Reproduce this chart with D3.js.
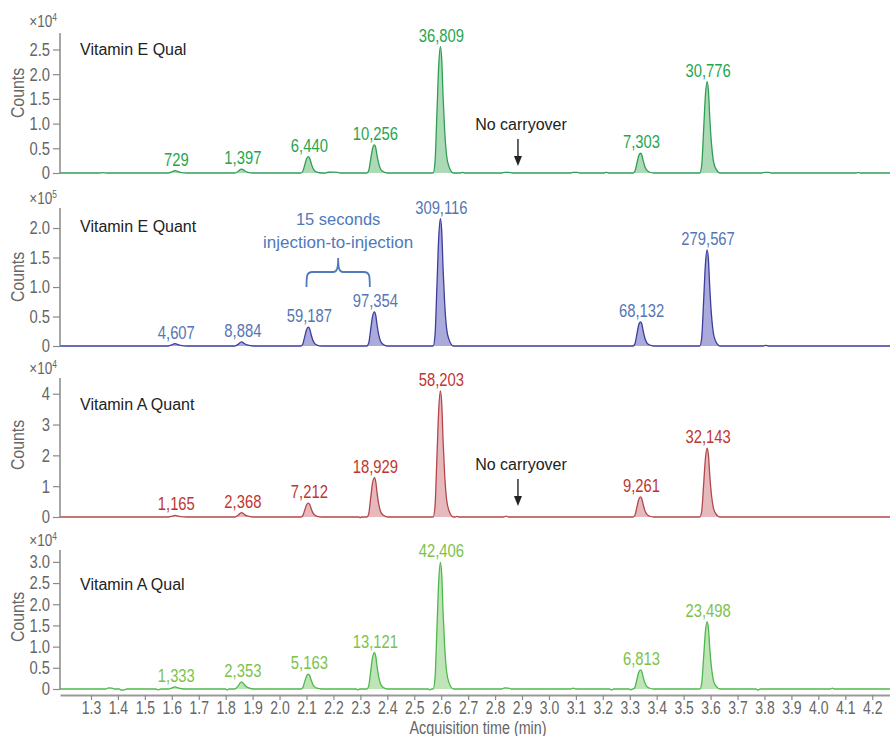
<!DOCTYPE html>
<meta charset="utf-8">
<style>
  body { margin: 0; background: #fff; }
  text { font-family: "Liberation Sans", Arial, sans-serif; }
</style>
<script src="https://d3js.org/d3.v7.min.js"></script>
<div id="chart"></div>
<script>

// ---- data ----
var panelNames = ["Vitamin E Qual", "Vitamin E Quant", "Vitamin A Quant", "Vitamin A Qual"];
var exponents = ["4", "5", "4", "4"];

var yTickValues = [
  [0, 0.5, 1, 1.5, 2, 2.5],
  [0, 0.5, 1, 1.5, 2],
  [0, 1, 2, 3, 4],
  [0, 0.5, 1, 1.5, 2, 2.5, 3]
];
var yTickLabels = [
  ["0", "0.5", "1.0", "1.5", "2.0", "2.5"],
  ["0", "0.5", "1.0", "1.5", "2.0"],
  ["0", "1", "2", "3", "4"],
  ["0", "0.5", "1.0", "1.5", "2.0", "2.5", "3.0"]
];
var yMax = [2.834, 2.34, 4.51, 3.28];

var xTickValues = [1.3, 1.4, 1.5, 1.6, 1.7, 1.8, 1.9, 2.0, 2.1, 2.2, 2.3, 2.4, 2.5, 2.6, 2.7,
                   2.8, 2.9, 3.0, 3.1, 3.2, 3.3, 3.4, 3.5, 3.6, 3.7, 3.8, 3.9, 4.0, 4.1, 4.2];

// retention time of each labelled peak (min)
var peakTimes = [1.613, 1.860, 2.107, 2.352, 2.597, 3.340, 3.587];

// peak apex heights, in axis units (x10^n)
var peakHeights = [
  [0.05, 0.08, 0.33, 0.57, 2.56, 0.40, 1.85],
  [0.04, 0.07, 0.32, 0.58, 2.16, 0.41, 1.63],
  [0.05, 0.14, 0.45, 1.28, 4.09, 0.65, 2.23],
  [0.05, 0.17, 0.35, 0.86, 2.99, 0.45, 1.59]
];

// peak area labels
var peakLabels = [
  ["729", "1,397", "6,440", "10,256", "36,809", "7,303", "30,776"],
  ["4,607", "8,884", "59,187", "97,354", "309,116", "68,132", "279,567"],
  ["1,165", "2,368", "7,212", "18,929", "58,203", "9,261", "32,143"],
  ["1,333", "2,353", "5,163", "13,121", "42,406", "6,813", "23,498"]
];

// chromatogram traces [time, counts in axis units]
var traceEQual = [
  [1.185, 0], [1.33, 0], [1.345, 0.006], [1.36, 0],
  [1.587, 0], [1.599, 0.02], [1.608, 0.045], [1.613, 0.05], [1.621, 0.033], [1.632, 0.012], [1.656, 0],
  [1.834, 0], [1.846, 0.032], [1.855, 0.072], [1.860, 0.08], [1.868, 0.052], [1.879, 0.02], [1.903, 0],
  [2.079, 0], [2.086, 0.03], [2.093, 0.155], [2.100, 0.285], [2.107, 0.33], [2.112, 0.297], [2.117, 0.205],
  [2.123, 0.11], [2.130, 0.046], [2.139, 0.017], [2.156, 0],
  [2.17, 0], [2.18, 0.015], [2.20, 0.018], [2.215, 0.012], [2.225, 0],
  [2.324, 0], [2.331, 0.05], [2.338, 0.265], [2.345, 0.49], [2.352, 0.57], [2.357, 0.513], [2.362, 0.35],
  [2.368, 0.19], [2.375, 0.08], [2.384, 0.029], [2.401, 0],
  [2.570, 0], [2.577, 0.215], [2.584, 1.18], [2.591, 2.2], [2.597, 2.56], [2.602, 2.304], [2.607, 1.55],
  [2.613, 0.85], [2.620, 0.36], [2.629, 0.128], [2.646, 0],
  [2.672, 0], [2.679, 0.012], [2.686, 0],
  [2.825, 0], [2.835, 0.012], [2.85, 0.014], [2.865, 0],
  [3.08, 0], [3.09, 0.012], [3.105, 0.012], [3.115, 0],
  [3.205, 0], [3.213, 0.014], [3.222, 0],
  [3.312, 0], [3.319, 0.035], [3.326, 0.185], [3.333, 0.345], [3.340, 0.40], [3.345, 0.36], [3.350, 0.245],
  [3.356, 0.132], [3.363, 0.056], [3.372, 0.02], [3.389, 0],
  [3.560, 0], [3.567, 0.155], [3.574, 0.85], [3.581, 1.59], [3.587, 1.85], [3.592, 1.665], [3.597, 1.12],
  [3.603, 0.615], [3.610, 0.26], [3.619, 0.093], [3.636, 0],
  [3.79, 0], [3.80, 0.012], [3.815, 0.012], [3.825, 0],
  [4.14, 0], [4.148, 0.01], [4.156, 0],
  [4.266, 0]
];

var traceEQuant = [
  [1.185, 0],
  [1.587, 0], [1.599, 0.016], [1.608, 0.036], [1.613, 0.04], [1.621, 0.026], [1.632, 0.01], [1.656, 0],
  [1.834, 0], [1.846, 0.028], [1.855, 0.063], [1.860, 0.07], [1.868, 0.046], [1.879, 0.018], [1.903, 0],
  [2.079, 0], [2.086, 0.029], [2.093, 0.15], [2.100, 0.276], [2.107, 0.32], [2.112, 0.288], [2.117, 0.198],
  [2.123, 0.106], [2.130, 0.045], [2.139, 0.016], [2.156, 0],
  [2.324, 0], [2.331, 0.05], [2.338, 0.27], [2.345, 0.5], [2.352, 0.58], [2.357, 0.522], [2.362, 0.356],
  [2.368, 0.193], [2.375, 0.081], [2.384, 0.029], [2.401, 0],
  [2.570, 0], [2.577, 0.182], [2.584, 0.996], [2.591, 1.856], [2.597, 2.16], [2.602, 1.944], [2.607, 1.31],
  [2.613, 0.717], [2.620, 0.304], [2.629, 0.108], [2.646, 0],
  [3.312, 0], [3.319, 0.036], [3.326, 0.19], [3.333, 0.354], [3.340, 0.41], [3.345, 0.369], [3.350, 0.251],
  [3.356, 0.135], [3.363, 0.057], [3.372, 0.021], [3.389, 0],
  [3.560, 0], [3.567, 0.137], [3.574, 0.748], [3.581, 1.4], [3.587, 1.63], [3.592, 1.467], [3.597, 0.988],
  [3.603, 0.54], [3.610, 0.229], [3.619, 0.082], [3.636, 0],
  [3.795, 0], [3.805, 0.01], [3.815, 0],
  [4.266, 0]
];

var traceAQuant = [
  [1.185, 0],
  [1.587, 0], [1.599, 0.02], [1.608, 0.045], [1.613, 0.05], [1.621, 0.033], [1.632, 0.012], [1.656, 0],
  [1.834, 0], [1.846, 0.056], [1.855, 0.126], [1.860, 0.14], [1.868, 0.091], [1.879, 0.035], [1.903, 0],
  [2.079, 0], [2.086, 0.04], [2.093, 0.21], [2.100, 0.39], [2.107, 0.45], [2.112, 0.405], [2.117, 0.28],
  [2.123, 0.15], [2.130, 0.063], [2.139, 0.023], [2.156, 0],
  [2.295, 0], [2.299, -0.03], [2.303, 0],
  [2.324, 0], [2.331, 0.11], [2.338, 0.595], [2.345, 1.1], [2.352, 1.28], [2.357, 1.152], [2.362, 0.785],
  [2.368, 0.425], [2.375, 0.18], [2.384, 0.064], [2.401, 0],
  [2.570, 0], [2.577, 0.344], [2.584, 1.886], [2.591, 3.515], [2.597, 4.09], [2.602, 3.681], [2.607, 2.48],
  [2.613, 1.36], [2.620, 0.575], [2.629, 0.205], [2.646, 0],
  [2.652, 0], [2.658, 0.02], [2.665, 0],
  [2.832, 0], [2.841, 0.03], [2.85, 0],
  [3.312, 0], [3.319, 0.056], [3.326, 0.3], [3.333, 0.56], [3.340, 0.65], [3.345, 0.585], [3.350, 0.398],
  [3.356, 0.216], [3.363, 0.091], [3.372, 0.033], [3.389, 0],
  [3.560, 0], [3.567, 0.188], [3.574, 1.028], [3.581, 1.916], [3.587, 2.23], [3.592, 2.007], [3.597, 1.352],
  [3.603, 0.74], [3.610, 0.313], [3.619, 0.112], [3.636, 0],
  [4.266, 0]
];

var traceAQual = [
  [1.185, 0], [1.355, 0], [1.365, 0.025], [1.378, 0.02], [1.388, 0],
  [1.405, 0], [1.412, -0.025], [1.425, -0.02], [1.432, 0],
  [1.54, 0], [1.55, -0.02], [1.56, 0],
  [1.587, 0], [1.599, 0.02], [1.608, 0.045], [1.613, 0.05], [1.621, 0.033], [1.632, 0.012], [1.656, 0],
  [1.80, 0], [1.806, -0.02], [1.812, 0],
  [1.834, 0], [1.846, 0.068], [1.855, 0.153], [1.860, 0.17], [1.868, 0.111], [1.879, 0.043], [1.903, 0],
  [2.079, 0], [2.086, 0.031], [2.093, 0.164], [2.100, 0.302], [2.107, 0.35], [2.112, 0.315], [2.117, 0.217],
  [2.123, 0.117], [2.130, 0.049], [2.139, 0.018], [2.156, 0],
  [2.285, 0], [2.29, -0.02], [2.298, 0],
  [2.324, 0], [2.331, 0.074], [2.338, 0.4], [2.345, 0.74], [2.352, 0.86], [2.357, 0.774], [2.362, 0.527],
  [2.368, 0.286], [2.375, 0.12], [2.384, 0.043], [2.401, 0],
  [2.553, 0], [2.558, -0.02], [2.564, 0],
  [2.570, 0], [2.577, 0.251], [2.584, 1.38], [2.591, 2.57], [2.597, 2.99], [2.602, 2.691], [2.607, 1.81],
  [2.613, 0.99], [2.620, 0.42], [2.629, 0.15], [2.646, 0],
  [2.825, 0], [2.835, 0.025], [2.85, 0.022], [2.86, 0],
  [3.08, 0], [3.09, 0.02], [3.10, 0],
  [3.225, 0], [3.233, -0.025], [3.24, 0],
  [3.298, 0], [3.304, -0.02], [3.309, 0],
  [3.312, 0], [3.319, 0.039], [3.326, 0.21], [3.333, 0.39], [3.340, 0.45], [3.345, 0.405], [3.350, 0.276],
  [3.356, 0.15], [3.363, 0.063], [3.372, 0.023], [3.389, 0],
  [3.560, 0], [3.567, 0.134], [3.574, 0.73], [3.581, 1.366], [3.587, 1.59], [3.592, 1.431], [3.597, 0.964],
  [3.603, 0.527], [3.610, 0.224], [3.619, 0.08], [3.636, 0],
  [3.768, 0], [3.776, -0.03], [3.784, 0],
  [4.045, 0], [4.052, 0.02], [4.06, 0],
  [4.266, 0]
];

var traces = [traceEQual, traceEQuant, traceAQuant, traceAQual];

// ---- layout / style ----
var W = 890, H = 736;
var axisTop = [33, 208, 378, 550];
var axisZero = [173, 346, 517, 689];
var labelY = [55, 232, 410, 590];
var countsY = [93, 277, 445, 617];
var textColor = ["#1fa64f", "#5675b6", "#c0362f", "#7cc24a"];
var lineColor = ["#2f9e55", "#3d3d9c", "#b3474c", "#4db84b"];
var fillColor = ["#acdab6", "#aaaadc", "#e6b9bd", "#bfe4b8"];
var squeeze = 0.8;   // condensed look for numbers

// squeeze a text horizontally around its anchor point
function condense(sel) {
  sel.each(function() {
    var t = d3.select(this);
    var x0 = +t.attr("x") || 0, y0 = +t.attr("y") || 0;
    t.attr("x", 0).attr("y", 0)
      .attr("transform", "translate(" + x0 + "," + y0 + ") scale(" + squeeze + ",1)");
  });
}

var svg = d3.select("#chart").append("svg")
    .attr("width", W)
    .attr("height", H);

var x = d3.scaleLinear().domain([1.185, 4.266]).range([60, 890]);

panelNames.forEach(function(name, i) {
  var y = d3.scaleLinear().domain([0, yMax[i]]).range([axisZero[i], axisTop[i]]);
  var g = svg.append("g");

  // trace fill + line
  var area = d3.area()
    .x(function(d) { return x(d[0]); })
    .y0(y(0))
    .y1(function(d) { return y(d[1]); })
    .curve(d3.curveMonotoneX);
  var line = d3.line()
    .x(function(d) { return x(d[0]); })
    .y(function(d) { return y(d[1]); })
    .curve(d3.curveMonotoneX);

  g.append("path")
    .datum(traces[i])
    .attr("d", area)
    .attr("fill", fillColor[i]);
  g.append("path")
    .datum(traces[i])
    .attr("d", line)
    .attr("fill", "none")
    .attr("stroke", lineColor[i])
    .attr("stroke-width", 1.3);

  // y axis
  var yAxis = g.append("g")
    .attr("transform", "translate(60,0)")
    .call(d3.axisLeft(y)
      .tickValues(yTickValues[i])
      .tickFormat(function(d, k) { return yTickLabels[i][k]; })
      .tickSize(7)
      .tickSizeOuter(0)
      .tickPadding(3));
  yAxis.select(".domain")
    .attr("d", "M0," + axisTop[i] + "V" + axisZero[i])
    .attr("stroke", "#8a8a8a").attr("stroke-width", 1.5);
  yAxis.selectAll(".tick line").attr("stroke", "#8a8a8a").attr("stroke-width", 1.2);
  yAxis.selectAll(".tick text")
    .attr("fill", "#666")
    .style("font-family", "'Liberation Sans', Arial, sans-serif")
    .style("font-size", "18.5px")
    .call(condense);

  // multiplier
  var mult = g.append("text")
    .attr("x", 57)
    .attr("y", axisTop[i] - 4 - (i === 0 ? 2 : 0))
    .attr("text-anchor", "end")
    .attr("fill", "#666")
    .style("font-size", "17px");
  mult.append("tspan").text("\u00d710");
  mult.append("tspan").attr("dy", -6).style("font-size", "10.5px").text(exponents[i]);
  mult.call(condense);

  // Counts
  g.append("text")
    .attr("transform", "translate(24," + countsY[i] + ") rotate(-90) scale(0.88,1)")
    .attr("text-anchor", "middle")
    .attr("fill", "#666")
    .style("font-size", "18px")
    .text("Counts");

  // panel name
  g.append("text")
    .attr("x", 80)
    .attr("y", labelY[i])
    .attr("fill", "#222")
    .style("font-size", "16px")
    .text(name);

  // peak labels
  g.selectAll(".plab")
    .data(peakTimes)
    .enter().append("text")
    .attr("x", function(t) { return x(t) + 1; })
    .attr("y", function(t, k) { return y(peakHeights[i][k]) - 5; })
    .attr("text-anchor", "middle")
    .attr("fill", textColor[i])
    .style("font-size", "18.5px")
    .text(function(t, k) { return peakLabels[i][k]; })
    .call(condense);

  // annotations
  if (i === 0 || i === 2) {
    var ax = x(2.885);
    var yt = i === 0 ? 130 : 470;
    g.append("text")
      .attr("x", ax + 3)
      .attr("y", yt)
      .attr("text-anchor", "middle")
      .attr("fill", "#222")
      .style("font-size", "16px")
      .text("No carryover");
    g.append("line")
      .attr("x1", ax).attr("x2", ax)
      .attr("y1", yt + 9).attr("y2", yt + 30)
      .attr("stroke", "#222").attr("stroke-width", 1.4);
    g.append("path")
      .attr("d", "M" + (ax - 4) + "," + (yt + 26) + "L" + (ax + 4) + "," + (yt + 26) + "L" + ax + "," + (yt + 36) + "Z")
      .attr("fill", "#222");
  }
  if (i === 1) {
    var bx1 = x(2.100), bx2 = x(2.335), bm = (bx1 + bx2) / 2;
    g.append("text")
      .attr("x", bm)
      .attr("y", 225)
      .attr("text-anchor", "middle")
      .attr("fill", "#4f78bd")
      .style("font-size", "16.5px")
      .text("15 seconds");
    g.append("text")
      .attr("x", bm)
      .attr("y", 248)
      .attr("text-anchor", "middle")
      .attr("fill", "#4f78bd")
      .style("font-size", "17px")
      .text("injection-to-injection");
    g.append("path")
      .attr("d", "M" + bx1 + ",287 C" + bx1 + ",276 " + bx1 + ",272 " + (bx1 + 6) + ",272 L" + (bm - 5) + ",272 C" +
        (bm - 1) + ",272 " + bm + ",268 " + bm + ",258 C" + bm + ",268 " + (bm + 1) + ",272 " + (bm + 5) + ",272 L" +
        (bx2 - 6) + ",272 C" + bx2 + ",272 " + bx2 + ",276 " + bx2 + ",287")
      .attr("fill", "none")
      .attr("stroke", "#4f78bd")
      .attr("stroke-width", 1.8);
  }
});

// x axis
var xAxis = svg.append("g")
  .attr("transform", "translate(0,695)")
  .call(d3.axisBottom(x)
    .tickValues(xTickValues)
    .tickFormat(d3.format(".1f"))
    .tickSize(5)
    .tickSizeOuter(0)
    .tickPadding(1.5));
xAxis.select(".domain").attr("stroke", "#999").attr("stroke-width", 2);
xAxis.selectAll(".tick line").attr("stroke", "#8a8a8a").attr("stroke-width", 1.2);
xAxis.selectAll(".tick text")
  .attr("fill", "#666")
  .style("font-family", "'Liberation Sans', Arial, sans-serif")
  .style("font-size", "17.5px")
  .call(condense);

svg.append("text")
  .attr("transform", "translate(478,734) scale(0.82,1)")
  .attr("text-anchor", "middle")
  .attr("fill", "#666")
  .style("font-size", "17.5px")
  .text("Acquisition time (min)");

</script>
